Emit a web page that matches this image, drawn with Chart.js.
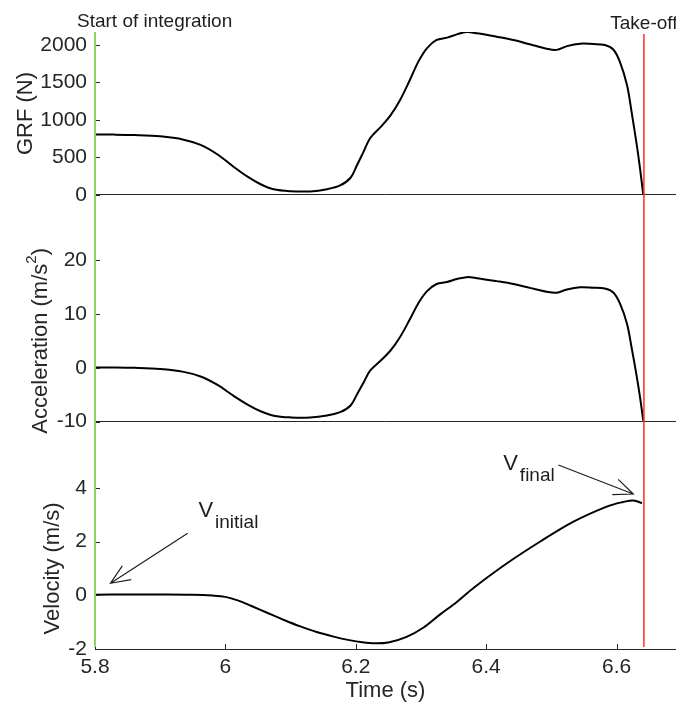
<!DOCTYPE html>
<html lang="en">
<head>
<meta charset="UTF-8">
<title>GRF, acceleration and velocity</title>
<script src="https://cdn.jsdelivr.net/npm/chart.js"></script>
<style>
    body {
        margin: 0;
        background: #fff;
    }
    #chart {
        display: block;
    }
</style>
</head>
<body>
<canvas id="chart" width="676" height="711"></canvas>
<script>
// tick labels
const TIME_TICKS = [5.8, 6, 6.2, 6.4, 6.6];
const GRF_TICKS = [0, 500, 1000, 1500, 2000];
const ACC_TICKS = [-10, 0, 10, 20];
const VEL_TICKS = [-2, 0, 2, 4];

// force plate samples (s)
const forceTime = [5.80, 5.83, 5.86, 5.90, 5.936, 5.962, 5.988, 6.012, 6.034, 6.054, 6.074, 6.10, 6.13, 6.156,
    6.176, 6.192, 6.202, 6.212, 6.222, 6.238, 6.253, 6.268, 6.283, 6.296, 6.309, 6.324, 6.34, 6.355, 6.37,
    6.386, 6.416, 6.442, 6.467, 6.493, 6.508, 6.524, 6.544, 6.564, 6.582, 6.595, 6.605, 6.616, 6.623, 6.631,
    6.636, 6.641];
const grf = [805, 805, 800, 782, 738, 668, 540, 380, 244, 143, 76, 50, 48, 78,
    128, 230, 400, 578, 756, 905, 1058, 1267, 1533, 1778, 1956, 2067, 2098, 2142, 2172,
    2156, 2111, 2067, 2009, 1950, 1935, 1985, 2018, 2013, 2000, 1940, 1778, 1467, 1111, 667,
    356, 0];
const accel = [0.06, 0.06, 0.0, -0.22, -0.76, -1.62, -3.19, -5.15, -6.82, -8.06, -8.88, -9.2, -9.22, -8.85,
    -8.24, -6.99, -4.9, -2.72, -0.54, 1.29, 3.16, 5.73, 8.99, 11.99, 14.18, 15.54, 15.92, 16.46, 16.82,
    16.63, 16.08, 15.54, 14.83, 14.1, 13.92, 14.53, 14.94, 14.87, 14.71, 13.98, 11.99, 8.18, 3.81, -1.63,
    -5.44, -9.81];

const velTime = [5.80, 5.85, 5.90, 5.95, 5.98, 6.00, 6.02, 6.04, 6.064, 6.09, 6.115, 6.14, 6.166, 6.19,
    6.21, 6.23, 6.25, 6.278, 6.304, 6.329, 6.355, 6.381, 6.432, 6.483, 6.534, 6.585, 6.61, 6.626, 6.639];
const velocity = [0.02, 0.03, 0.03, 0.02, -0.01, -0.06, -0.2, -0.4, -0.65, -0.92, -1.16, -1.37, -1.54, -1.67,
    -1.75, -1.79, -1.76, -1.55, -1.2, -0.72, -0.25, 0.28, 1.19, 2.0, 2.74, 3.3, 3.47, 3.53, 3.43];

const START_TIME = 5.8;
const TAKEOFF_TIME = 6.642;

const FONT = "'Liberation Sans', Arial, sans-serif";
const AXIS_COLOR = '#262626';

const toPoints = (xs, ys) => xs.map((x, i) => ({x: x, y: ys[i]}));

// y axes are stacked in one chart, one band per panel
function panelAxis(ticks, min, max, weight, band, baseline) {
    return {
        type: 'linear',
        position: 'left',
        stack: 'panels',
        stackWeight: band,
        weight: weight,
        min: min,
        max: max,
        afterBuildTicks: s => { s.ticks = ticks.map(v => ({value: v})); },
        afterFit: s => { s.width = 95; },
        ticks: {
            font: {family: FONT, size: 21},
            color: AXIS_COLOR,
            padding: 8,
            autoSkip: false,
            callback: v => String(v)
        },
        grid: {
            drawTicks: false,
            lineWidth: 1,
            color: c => (baseline !== null && c.tick && c.tick.value === baseline) ? AXIS_COLOR : 'rgba(0,0,0,0)'
        },
        border: {display: false}
    };
}

function arrow(ctx, x0, y0, x1, y1) {
    const ang = Math.atan2(y0 - y1, x0 - x1);
    const len = 21, spread = 0.4;
    ctx.beginPath();
    ctx.moveTo(x0, y0);
    ctx.lineTo(x1, y1);
    ctx.moveTo(x1 + len * Math.cos(ang + spread), y1 + len * Math.sin(ang + spread));
    ctx.lineTo(x1, y1);
    ctx.lineTo(x1 + len * Math.cos(ang - spread), y1 + len * Math.sin(ang - spread));
    ctx.stroke();
}

function subText(ctx, x, y, main, sub) {
    ctx.font = '22px ' + FONT;
    ctx.fillText(main, x, y);
    const w = ctx.measureText(main).width;
    ctx.font = '19px ' + FONT;
    ctx.fillText(sub, x + w + 2, y + 11);
}

const overlay = {
    id: 'overlay',
    afterDatasetsDraw(chart) {
        const {ctx, chartArea, scales} = chart;
        const {x, y1, y2, y3} = scales;
        ctx.save();

        // inward tick marks
        ctx.strokeStyle = AXIS_COLOR;
        ctx.lineWidth = 1;
        ctx.beginPath();
        [[y1, GRF_TICKS], [y2, ACC_TICKS], [y3, VEL_TICKS]].forEach(([s, t]) => {
            t.forEach(v => {
                const py = Math.round(s.getPixelForValue(v)) + 0.5;
                ctx.moveTo(chartArea.left, py);
                ctx.lineTo(chartArea.left + 5, py);
            });
        });
        TIME_TICKS.forEach(v => {
            const px = Math.round(x.getPixelForValue(v)) + 0.5;
            ctx.moveTo(px, chartArea.bottom);
            ctx.lineTo(px, chartArea.bottom - 5);
        });
        ctx.stroke();

        // start of integration / take-off markers
        const bottom = y3.getPixelForValue(-1.93);
        ctx.lineWidth = 2;
        ctx.strokeStyle = '#8cd264';
        ctx.beginPath();
        ctx.moveTo(x.getPixelForValue(START_TIME), y1.getPixelForValue(2173));
        ctx.lineTo(x.getPixelForValue(START_TIME), bottom);
        ctx.stroke();
        ctx.lineWidth = 1.5;
        ctx.strokeStyle = '#ff2a2a';
        ctx.beginPath();
        ctx.moveTo(x.getPixelForValue(TAKEOFF_TIME), y1.getPixelForValue(2145));
        ctx.lineTo(x.getPixelForValue(TAKEOFF_TIME), bottom);
        ctx.stroke();

        // y axis titles, centred on each panel's range
        ctx.fillStyle = AXIS_COLOR;
        ctx.textBaseline = 'middle';
        const vTitle = (cx, cy, parts) => {
            ctx.save();
            ctx.translate(cx, cy);
            ctx.rotate(-Math.PI / 2);
            let total = 0;
            parts.forEach(p => { ctx.font = p.size + 'px ' + FONT; p.w = ctx.measureText(p.text).width; total += p.w; });
            let px = -total / 2;
            ctx.textAlign = 'left';
            parts.forEach(p => {
                ctx.font = p.size + 'px ' + FONT;
                ctx.fillText(p.text, px, p.dy || 0);
                px += p.w;
            });
            ctx.restore();
        };
        const mid = (s, a, b) => (s.getPixelForValue(a) + s.getPixelForValue(b)) / 2;
        vTitle(26, mid(y1, 0, 2173), [{text: 'GRF (N)', size: 22}]);
        vTitle(41, mid(y2, -10, 20), [{text: 'Acceleration (m/s', size: 22}, {text: '2', size: 15, dy: -9}, {text: ')', size: 22}]);
        vTitle(53, mid(y3, -2, 4), [{text: 'Velocity (m/s)', size: 22}]);

        // annotations
        ctx.fillStyle = '#1e1e1e';
        ctx.textBaseline = 'alphabetic';
        ctx.textAlign = 'left';
        ctx.font = '19px ' + FONT;
        ctx.fillText('Start of integration', x.getPixelForValue(START_TIME) - 18, 27);
        ctx.textAlign = 'center';
        ctx.fillText('Take-off', x.getPixelForValue(TAKEOFF_TIME), 29);
        ctx.textAlign = 'left';

        subText(ctx, x.getPixelForValue(5.9586), y3.getPixelForValue(2.924), 'V', 'initial');
        subText(ctx, x.getPixelForValue(6.4261), y3.getPixelForValue(4.662), 'V', 'final');

        ctx.strokeStyle = '#1e1e1e';
        ctx.lineWidth = 1.2;
        arrow(ctx, x.getPixelForValue(5.9422), y3.getPixelForValue(2.307),
            x.getPixelForValue(5.8238), y3.getPixelForValue(0.446));
        arrow(ctx, x.getPixelForValue(6.5108), y3.getPixelForValue(4.848),
            x.getPixelForValue(6.6257), y3.getPixelForValue(3.769));

        ctx.restore();
    }
};

const lineStyle = {
    borderColor: '#000',
    borderWidth: 2,
    pointRadius: 0,
    fill: false,
    tension: 0.35
};

new Chart(document.getElementById('chart').getContext('2d'), {
    type: 'line',
    data: {
        datasets: [
            Object.assign({label: 'GRF', data: toPoints(forceTime, grf), yAxisID: 'y1'}, lineStyle),
            Object.assign({label: 'Acceleration', data: toPoints(forceTime, accel), yAxisID: 'y2'}, lineStyle),
            Object.assign({label: 'Velocity', data: toPoints(velTime, velocity), yAxisID: 'y3'}, lineStyle)
        ]
    },
    options: {
        responsive: false,
        animation: false,
        layout: {padding: {top: 32, left: 0, right: 0, bottom: 0}},
        plugins: {
            legend: {display: false},
            tooltip: {enabled: false}
        },
        scales: {
            x: {
                type: 'linear',
                min: 5.8,
                max: 6.6912,
                afterBuildTicks: s => { s.ticks = TIME_TICKS.map(v => ({value: v})); },
                afterFit: s => { s.height = 62; },
                ticks: {
                    font: {family: FONT, size: 21},
                    color: AXIS_COLOR,
                    padding: 6,
                    maxRotation: 0,
                    autoSkip: false,
                    callback: v => String(v)
                },
                grid: {display: false, drawTicks: false},
                border: {display: true, color: AXIS_COLOR, width: 1},
                title: {
                    display: true,
                    text: 'Time (s)',
                    font: {family: FONT, size: 22},
                    color: AXIS_COLOR,
                    padding: {top: 0, bottom: 7}
                }
            },
            y1: panelAxis(GRF_TICKS, -426.7, 2173.3, 3, 195, 0),
            y2: panelAxis(ACC_TICKS, -16.18, 26.12, 2, 228, -10),
            y3: panelAxis(VEL_TICKS, -2, 5.22, 1, 194, null)
        }
    },
    plugins: [overlay]
});
</script>
</body>
</html>
